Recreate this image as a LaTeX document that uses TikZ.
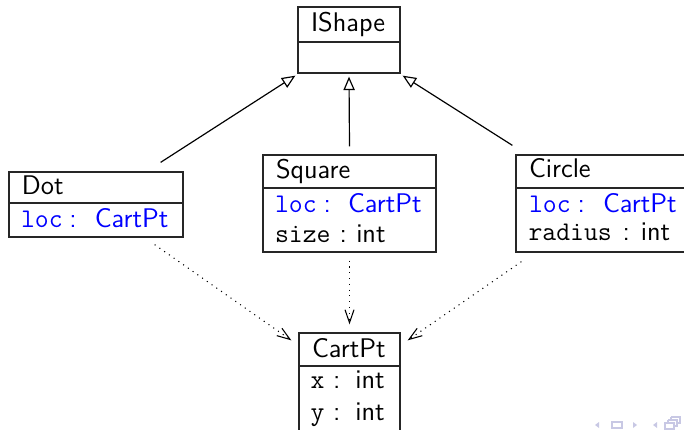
\documentclass[tikz,border=0pt]{standalone}
\usetikzlibrary{arrows.meta,calc,fit}
\definecolor{navc}{RGB}{200,200,228}
\begin{document}
\begin{tikzpicture}[x=0.423pt,y=-0.423pt,
  font=\sffamily\fontsize{11.4}{13.5}\selectfont,
  box/.style={draw=black!85,line width=0.55pt,inner sep=0pt,rectangle},
  divider/.style={draw=black!85,line width=0.55pt},
  txt/.style={anchor=base west,inner sep=0pt,outer sep=0pt},
  attr/.style={txt,text=blue},
  inherit/.style={draw=black,line width=0.5pt,-{Triangle[open,length=5.7pt,width=4.8pt]}},
  uses/.style={draw=black,line width=0.45pt,dotted,-{Straight Barb[length=5.5pt,width=3.8pt]}}]
\useasboundingbox (0,0) rectangle (684,429);

% boxes
\node[box,fit={(298,7) (400,73)}] (ishape) {};
\draw[divider] (298,42) -- (400,42);
\node[txt] (ishapeT) at (311,32) {IShape};

\node[box,fit={(9,172) (183,237)}] (dot) {};
\draw[divider] (9,203) -- (183,203);
\node[txt] (dotT) at (22,194) {Dot};
\node[attr] (dotA) at (21,227) {\texttt{loc}\hspace{2.9pt}:\hspace{7.6pt}CartPt};

\node[box,fit={(263,155) (436,252)}] (square) {};
\draw[divider] (263,188) -- (436,188);
\node[txt] (squareT) at (276,178) {Square};
\node[attr] (squareA) at (275,212) {\texttt{loc}\hspace{2.9pt}:\hspace{7.3pt}CartPt};
\node[txt] (squareB) at (275,242) {\texttt{size}\hspace{3.9pt}:\hspace{3.9pt}int};

\node[box,fit={(516,155) (692,252)}] (circ) {};
\draw[divider] (516,188) -- (692,188);
\node[txt] (circT) at (529,177) {Circle};
\node[attr] (circA) at (529,212) {\texttt{loc}\hspace{3pt}:\hspace{7.6pt}CartPt};
\node[txt] (circB) at (528.5,240) {\texttt{radius}\hspace{4.6pt}:\hspace{4.6pt}int};

\node[box,fit={(299,333) (400,440)}] (cartpt) {};
\draw[divider] (299,366) -- (400,366);
\node[txt] (cartT) at (312,357) {CartPt};
\node[txt] (cartX) at (310.5,388) {\texttt{x}\hspace{3.7pt}:\hspace{6.3pt}int};
\node[txt] (cartY) at (310.5,420) {\texttt{y}\hspace{3.7pt}:\hspace{6.3pt}int};

% inheritance
\draw[inherit] ($(dot.north east)+(-23,-9)$) -- ($(ishape.south west)+(-2,2)$);
\draw[inherit] ($(square.north)+(0,-8)$) -- ($(ishape.south)+(0,3)$);
\draw[inherit] ($(circ.north west)+(-3,-9)$) -- ($(ishape.south east)+(2,2)$);

% associations
\draw[uses] ($(dot.south east)+(-29,7)$) -- ($(cartpt.north west)+(-7,8)$);
\draw[uses] ($(square.south)+(0,8)$) -- ($(cartpt.north)+(0,-8)$);
\draw[uses] ($(circ.south west)+(6,9)$) -- ($(cartpt.north east)+(7,8)$);

% navigation symbols
\fill[navc] (599,422) -- (595,425) -- (599,428) -- cycle;
\draw[navc,line width=0.5pt] (612,422) rectangle (622,428);
\fill[navc] (633,422) -- (637,425) -- (633,428) -- cycle;
\fill[navc] (657,422) -- (653,425) -- (657,428) -- cycle;
\draw[navc,line width=0.5pt] (665,423) rectangle (674,429);
\draw[navc,line width=0.5pt] (668,420) -- (668,423) (668,420) -- (677,420) -- (677,426) -- (674,426);
\draw[navc,line width=0.5pt] (671,417) -- (671,420) (671,417) -- (680,417) -- (680,423) -- (677,423);
\end{tikzpicture}
\end{document}
